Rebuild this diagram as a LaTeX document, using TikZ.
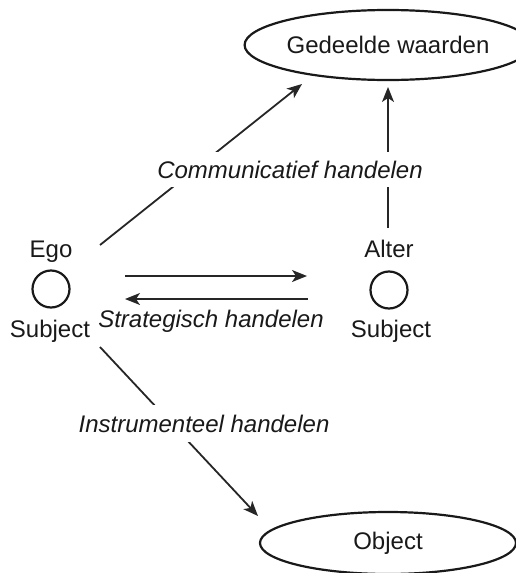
\documentclass[tikz,border=0pt]{standalone}
\usepackage{fontspec}
\setmainfont{Liberation Sans}
\usetikzlibrary{arrows.meta,shapes.geometric}
\begin{document}
\begin{tikzpicture}[x=1pt,y=-1pt,
  every node/.style={font=\fontsize{24}{28}\selectfont, text=black!90},
  conn/.style={line width=1.8pt, draw=black!85},
  arr/.style={conn,-{Stealth[length=15pt,width=12pt,inset=4pt]}},
  oval/.style={ellipse, draw=black!90, line width=2.2pt, inner sep=0pt},
  actor/.style={circle, draw=black!90, line width=2.2pt, minimum size=37pt, inner sep=0pt},
  lbl/.style={anchor=base, inner sep=0pt},
  act/.style={anchor=base, font=\fontsize{24}{28}\selectfont\itshape,
    fill=white, inner xsep=0pt, inner ysep=9pt}]
\useasboundingbox (0,0) rectangle (516,573);

% goals and object
\node[oval, minimum width=254pt, minimum height=70pt] (ged) at (388,45) {Gedeelde waarden};
\node[oval, minimum width=256pt, minimum height=62pt] (obj) at (388,543) {Object};

% the two subjects
\node[actor] (ego) at (51,289) {};
\node[actor] (alter) at (389,290) {};
\node[lbl] (egoname) at (51,257) {Ego};
\node[lbl] (egosub) at (50,337) {Subject};
\node[lbl] (altername) at (389,257) {Alter};
\node[lbl] (altersub) at (391,337) {Subject};

% connector end points
\coordinate (egoNE) at (100,245);
\coordinate (egoSE) at (100,347);
\coordinate (gedSW) at (302,84);
\coordinate (gedS) at (388,87);
\coordinate (alterN) at (388,228);
\coordinate (objNW) at (258,516);
\coordinate (stratAL) at (125,276);
\coordinate (stratAR) at (307,276);
\coordinate (stratBL) at (125,299);
\coordinate (stratBR) at (308,299);

% connectors
\draw[arr] (egoNE) -- (gedSW);
\draw[arr] (alterN) -- (gedS);
\draw[arr] (egoSE) -- (objNW);
\draw[arr] (stratAL) -- (stratAR);
\draw[arr] (stratBR) -- (stratBL);

% kinds of action
\node[act] (comm) at (290,178) {Communicatief handelen};
\node[act, inner ysep=10pt] (instr) at (204,432) {Instrumenteel handelen};
\node[act, fill=none, inner sep=0pt] (strat) at (211,327) {Strategisch handelen};
\end{tikzpicture}
\end{document}
